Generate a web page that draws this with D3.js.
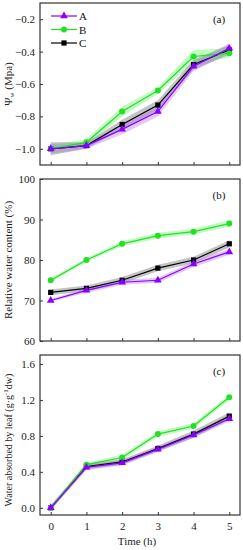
<!DOCTYPE html>
<html>
<head>
<meta charset="utf-8">
<script src="https://cdn.jsdelivr.net/npm/d3@7"></script>
<style>
  body { margin: 0; background: #fff; }
  svg, svg text { font-family: "Liberation Serif", "DejaVu Serif", serif; }
</style>
</head>
<body>
<div id="chart"></div>
<script>
const time = [0, 1, 2, 3, 4, 5];
const seriesNames = ['A', 'B', 'C'];

// panel (a) leaf water potential
const psiA = [-1.0, -0.98, -0.88, -0.77, -0.49, -0.38];
const psiB = [-1.0, -0.96, -0.77, -0.64, -0.43, -0.41];
const psiC = [-1.0, -0.98, -0.85, -0.73, -0.48, -0.39];
const psiErrA = [0.03, 0.02, 0.03, 0.03, 0.03, 0.03];
const psiErrB = [0.02, 0.02, 0.03, 0.02, 0.04, 0.03];
const psiErrC = [0.04, 0.02, 0.03, 0.03, 0.03, 0.03];

// panel (b) relative water content
const rwcA = [70, 72.5, 74.5, 75, 79, 82];
const rwcB = [75, 80, 84, 86, 87, 89];
const rwcC = [72, 73, 75, 78, 80, 84];
const rwcErrA = [0.3, 0.6, 0.6, 0.6, 0.7, 0.7];
const rwcErrB = [0.5, 0.5, 0.6, 0.7, 0.7, 0.8];
const rwcErrC = [0.7, 0.7, 0.8, 0.8, 0.8, 0.9];

// panel (c) water absorbed by leaf
const absA = [0.0, 0.45, 0.50, 0.65, 0.81, 0.99];
const absB = [0.0, 0.48, 0.56, 0.82, 0.91, 1.23];
const absC = [0.0, 0.46, 0.51, 0.66, 0.82, 1.02];
const absErrA = [0.02, 0.03, 0.03, 0.03, 0.03, 0.03];
const absErrB = [0.02, 0.02, 0.03, 0.03, 0.03, 0.03];
const absErrC = [0.03, 0.03, 0.03, 0.03, 0.04, 0.04];

const colors = { A: '#8a00ff', B: '#22e022', C: '#000000' };
const bandColors = { A: '#b060ff', B: '#55ee55', C: '#555555' };
const FONT = '"Liberation Serif", "DejaVu Serif", serif';

const W = 243, H = 550;
const svg = d3.select('#chart').append('svg')
  .attr('width', W).attr('height', H)
  .attr('font-family', FONT);

const x = d3.scaleLinear().domain([-0.3, 5.3]).range([40, 240]);

const panels = [
  { label: '(a)', top: 3, bottom: 165, domain: [-1.1, -0.1], ticks: [-1.0, -0.8, -0.6, -0.4, -0.2], fmt: d3.format('.1f'),
    series: { A: [psiA, psiErrA], B: [psiB, psiErrB], C: [psiC, psiErrC] }, legend: true, xLabels: false },
  { label: '(b)', top: 179, bottom: 341, domain: [60, 100], ticks: [60, 70, 80, 90, 100], fmt: d3.format('d'),
    series: { A: [rwcA, rwcErrA], B: [rwcB, rwcErrB], C: [rwcC, rwcErrC] }, legend: false, xLabels: false },
  { label: '(c)', top: 355, bottom: 515, domain: [-0.08, 1.7], ticks: [0, 0.4, 0.8, 1.2, 1.6], fmt: d3.format('.1f'),
    series: { A: [absA, absErrA], B: [absB, absErrB], C: [absC, absErrC] }, legend: false, xLabels: true }
];

function marker(sel, name, cx, cy) {
  const c = colors[name];
  if (name === 'A') {
    sel.append('path')
      .attr('d', d3.symbol().type(d3.symbolTriangle).size(26)())
      .attr('transform', `translate(${cx},${cy})`)
      .attr('fill', c);
  } else if (name === 'B') {
    sel.append('circle').attr('cx', cx).attr('cy', cy).attr('r', 3).attr('fill', c);
  } else {
    sel.append('rect').attr('x', cx - 2.6).attr('y', cy - 2.6)
      .attr('width', 5.2).attr('height', 5.2).attr('fill', c);
  }
}

panels.forEach((p, i) => {
  const y = d3.scaleLinear().domain(p.domain).range([p.bottom, p.top]);
  const g = svg.append('g');

  // bands
  ['C', 'A', 'B'].forEach(name => {
    const [vals, errs] = p.series[name];
    const area = d3.area()
      .x((d, j) => x(time[j]))
      .y0((d, j) => y(d - errs[j]))
      .y1((d, j) => y(d + errs[j]));
    g.append('path').attr('d', area(vals))
      .attr('fill', bandColors[name]).attr('fill-opacity', 0.35);
  });

  // lines + markers
  ['C', 'B', 'A'].forEach(name => {
    const [vals] = p.series[name];
    const line = d3.line().x((d, j) => x(time[j])).y(d => y(d));
    g.append('path').attr('d', line(vals))
      .attr('fill', 'none').attr('stroke', colors[name]).attr('stroke-width', 1.2);
    vals.forEach((v, j) => marker(g, name, x(time[j]), y(v)));
  });

  // frame
  g.append('rect').attr('x', 40).attr('y', p.top)
    .attr('width', 200).attr('height', p.bottom - p.top)
    .attr('fill', 'none').attr('stroke', '#333').attr('stroke-width', 1.2);

  // y axis
  const yAxis = g.append('g').attr('transform', 'translate(40,0)')
    .call(d3.axisLeft(y).tickValues(p.ticks).tickFormat(p.fmt).tickSizeInner(-3).tickSizeOuter(0).tickPadding(5))
    .attr('font-family', FONT).attr('font-size', 11);
  yAxis.select('.domain').remove();
  yAxis.selectAll('line').attr('stroke', '#333');
  yAxis.selectAll('text').attr('fill', '#222');

  // x axis
  const xAxis = g.append('g').attr('transform', `translate(0,${p.bottom})`)
    .call(d3.axisBottom(x).tickValues(time).tickFormat(p.xLabels ? d3.format('d') : '').tickSizeInner(-3).tickSizeOuter(0).tickPadding(7))
    .attr('font-family', FONT).attr('font-size', 11);
  xAxis.select('.domain').remove();
  xAxis.selectAll('line').attr('stroke', '#333');
  xAxis.selectAll('text').attr('fill', '#222');

  g.append('text').attr('x', 219).attr('y', p.top + 20)
    .attr('text-anchor', 'middle').attr('font-size', 11).attr('fill', '#111')
    .text(p.label);

  if (p.legend) {
    seriesNames.forEach((name, k) => {
      const ly = 16 + k * 13.5;
      g.append('line').attr('x1', 51).attr('x2', 77).attr('y1', ly).attr('y2', ly)
        .attr('stroke', colors[name]).attr('stroke-width', 1.2);
      marker(g, name, 64, ly);
      g.append('text').attr('x', 79).attr('y', ly + 4)
        .attr('font-size', 11).attr('fill', '#111').text(name);
    });
  }
});

// axis titles
const t1 = svg.append('text').attr('transform', 'translate(12,84) rotate(-90)')
  .attr('text-anchor', 'middle').attr('font-size', 11).attr('fill', '#222');
t1.append('tspan').text('Ψ');
t1.append('tspan').attr('font-size', 7).attr('dy', 2).text('w');
t1.append('tspan').attr('dy', -2).text(' (Mpa)');

svg.append('text').attr('transform', 'translate(12,260) rotate(-90)')
  .attr('text-anchor', 'middle').attr('font-size', 11).attr('fill', '#222')
  .text('Relative water content (%)');

const t3 = svg.append('text').attr('transform', 'translate(12,440) rotate(-90)')
  .attr('text-anchor', 'middle').attr('font-size', 10).attr('fill', '#222');
t3.append('tspan').text('Water absorbed by leaf (g·g');
t3.append('tspan').attr('font-size', 7).attr('dy', -4).text('-1');
t3.append('tspan').attr('dy', 4).text('dw)');

svg.append('text').attr('x', 137).attr('y', 545)
  .attr('text-anchor', 'middle').attr('font-size', 11).attr('fill', '#222')
  .text('Time (h)');
</script>
</body>
</html>
